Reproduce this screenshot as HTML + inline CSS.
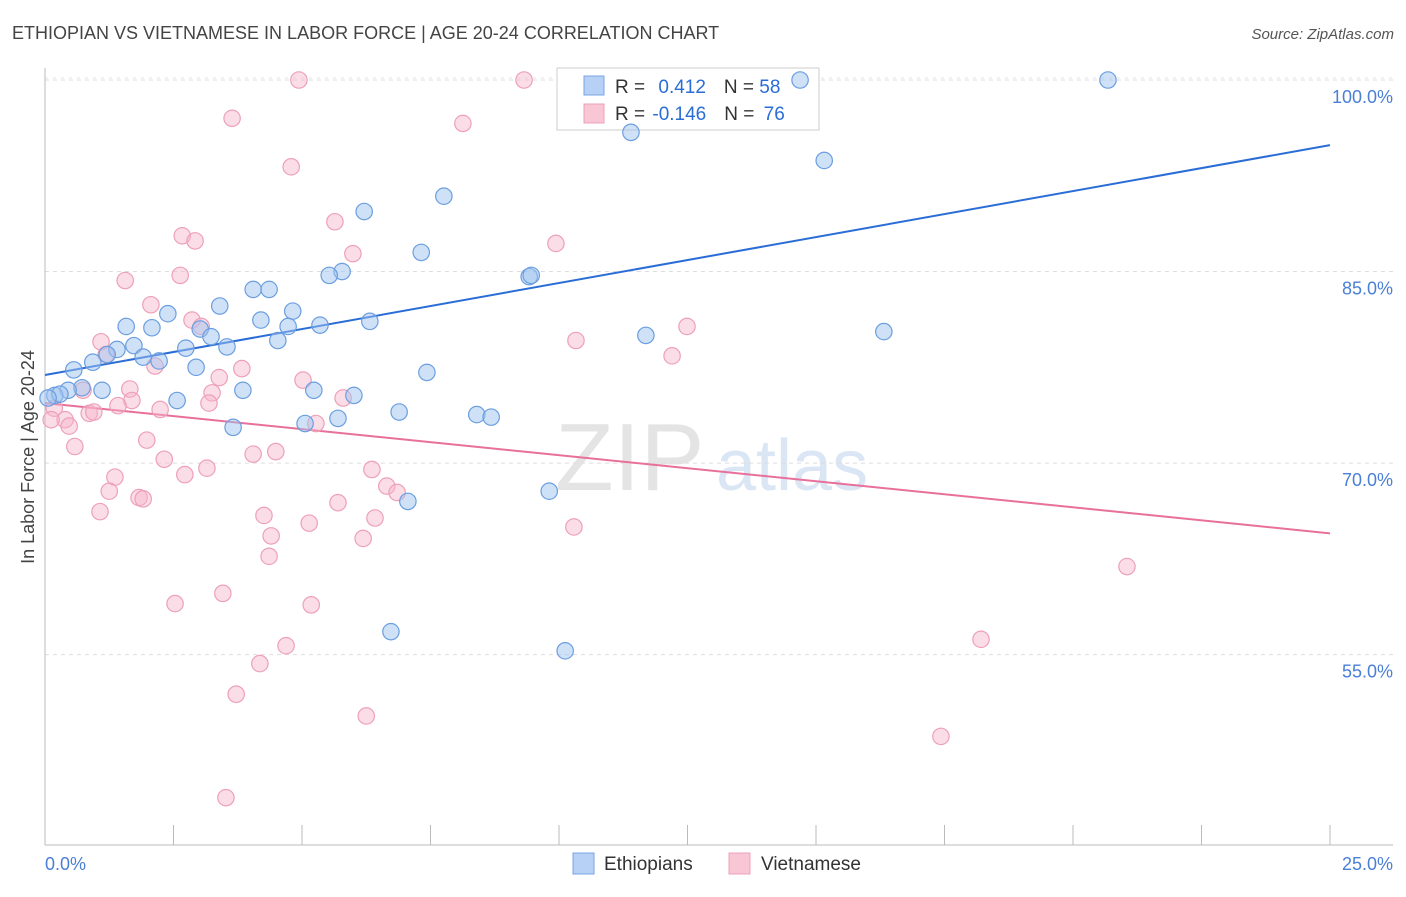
<!DOCTYPE html>
<html><head><meta charset="utf-8">
<style>
body{margin:0;background:#fff;font-family:"Liberation Sans",sans-serif;}
svg text{font-family:"Liberation Sans",sans-serif;}
</style></head>
<body>
<svg id="chart" width="1406" height="892" xmlns="http://www.w3.org/2000/svg">
<text x="12" y="39" font-size="18" fill="#444">ETHIOPIAN VS VIETNAMESE IN LABOR FORCE | AGE 20-24 CORRELATION CHART</text>
<text x="1394" y="39" font-size="15" fill="#555" text-anchor="end" font-style="italic">Source: ZipAtlas.com</text>
<g>
<text x="555" y="490" font-size="96" font-family="Liberation Serif" fill="#e4e4e4">ZIP</text>
<text x="716" y="490" font-size="72" fill="#dbe6f5">atlas</text>
</g>
<g id="grid"></g>
<g id="axes"></g>
<g>
<rect x="557" y="68" width="262" height="62" fill="#fff" stroke="#ccc"/>
<rect x="584" y="76" width="20" height="19" fill="#b7d0f5" stroke="#7aa4e4"/>
<rect x="584" y="104" width="20" height="19" fill="#f8c6d5" stroke="#eea0b8"/>
<text x="615" y="93" font-size="19" fill="#333">R = <tspan fill="#2a6dd6" dx="8">0.412</tspan><tspan dx="18" fill="#333">N = </tspan><tspan fill="#2a6dd6">58</tspan></text>
<text x="615" y="120" font-size="19" fill="#333">R = <tspan fill="#2a6dd6" dx="2">-0.146</tspan><tspan dx="18" fill="#333">N = </tspan><tspan fill="#2a6dd6" dx="4">76</tspan></text>
</g>
<g id="trends"></g>
<g id="points"></g>
<text transform="translate(34,457) rotate(-90)" font-size="18" fill="#444" text-anchor="middle">In Labor Force | Age 20-24</text>
<text x="45" y="870" font-size="18" fill="#4a7fd6">0.0%</text>
<text x="1393" y="870" font-size="18" fill="#4a7fd6" text-anchor="end">25.0%</text>
<g>
<rect x="573" y="853" width="21" height="21" fill="#b7d0f5" stroke="#7aa4e4"/>
<text x="604" y="870" font-size="19" fill="#333">Ethiopians</text>
<rect x="729" y="853" width="21" height="21" fill="#f8c6d5" stroke="#eea0b8"/>
<text x="761" y="870" font-size="19" fill="#333">Vietnamese</text>
</g>
</svg>
<script>
const yTicks=[100,85,70,55];
const yTickLabels=["100.0%","85.0%","70.0%","55.0%"];
const xTicks=[2.5,5,7.5,10,12.5,15,17.5,20,22.5,25];
const blueX=[20.68,14.69,11.40,15.16,7.76,6.21,7.32,9.42,9.46,5.78,5.53,4.05,4.36,3.40,4.82,2.39,1.58,2.08,4.20,4.73,5.35,6.32,11.69,16.32,3.02,3.23,4.53,3.54,2.74,1.73,1.40,1.21,1.91,2.22,0.93,2.94,0.56,7.43,1.11,0.72,0.45,3.85,5.23,6.01,2.57,0.19,0.29,0.06,6.89,8.40,8.68,5.70,5.06,3.66,9.81,7.06,6.73,10.12];
const blueY=[100,100,95.9,93.7,90.9,89.7,86.5,84.6,84.7,85.0,84.7,83.6,83.6,82.3,81.9,81.7,80.7,80.6,81.2,80.7,80.8,81.1,80.0,80.3,80.5,79.9,79.6,79.1,79.0,79.2,78.9,78.5,78.3,78.0,77.9,77.5,77.3,77.1,75.7,75.9,75.7,75.7,75.7,75.3,74.9,75.3,75.4,75.1,74.0,73.8,73.6,73.5,73.1,72.8,67.8,67.0,56.8,55.3];
const pinkX=[4.94,9.32,3.64,8.13,4.79,5.64,2.67,2.92,9.94,5.99,2.63,1.56,2.06,2.86,3.04,12.49,10.33,1.09,12.20,1.19,2.14,3.83,3.39,5.02,1.65,0.74,3.25,5.80,1.69,3.19,1.42,2.24,0.86,0.95,0.18,0.39,0.12,0.47,5.27,1.98,0.58,4.05,4.49,2.32,3.15,6.36,2.72,1.36,6.65,1.83,1.91,1.25,6.85,5.70,1.07,4.26,6.42,5.14,10.29,4.40,6.19,4.36,21.05,2.53,5.18,3.46,18.21,4.69,4.18,3.72,6.25,17.43,3.52];
const pinkY=[100,100,97.0,96.6,93.2,88.9,87.8,87.4,87.2,86.4,84.7,84.3,82.4,81.2,80.7,80.7,79.6,79.5,78.4,78.5,77.6,77.4,76.7,76.5,75.8,75.7,75.5,75.1,74.9,74.7,74.5,74.2,73.9,74.0,74.3,73.4,73.4,72.9,73.1,71.8,71.3,70.7,70.9,70.3,69.6,69.5,69.1,68.9,68.2,67.3,67.2,67.8,67.7,66.9,66.2,65.9,65.7,65.3,65.0,64.3,64.1,62.7,61.9,59.0,58.9,59.8,56.2,55.7,54.3,51.9,50.2,48.6,43.8];
const blueTrend=[76.9,94.9];
const pinkTrend=[74.7,64.5];
const NS="http://www.w3.org/2000/svg";
const X=v=>45+v/25*1285;
const Y=v=>80+(100-v)*12.77;
function mk(t,a,p){const e=document.createElementNS(NS,t);for(const k in a)e.setAttribute(k,a[k]);p.appendChild(e);return e;}
const grid=document.getElementById('grid'),axes=document.getElementById('axes');
yTicks.forEach((v,i)=>{
 const l=mk('line',{x1:45,x2:1393,y1:Y(v),y2:Y(v),stroke:'#ddd','stroke-dasharray':'4,4'},grid);
 
 
 const t=mk('text',{x:1393,y:Y(v)+23,'font-size':18,fill:'#4a7fd6','text-anchor':'end'},grid);
 t.textContent=yTickLabels[i];
 
 
});
mk('line',{x1:45,x2:1393,y1:78,y2:78,stroke:'#e6e6e6','stroke-dasharray':'3,5'},grid);
mk('line',{x1:45,x2:45,y1:68,y2:845,stroke:'#bbb'},axes);
mk('line',{x1:45,x2:1393,y1:845,y2:845,stroke:'#bbb'},axes);
xTicks.forEach(v=>{const t=mk('line',{x1:X(v),x2:X(v),y1:825,y2:845,stroke:'#bbb'},axes);
 
 });
const tr=document.getElementById('trends'),pts=document.getElementById('points');
function dots(xs,ys,fill,stroke,name){xs.forEach((x,i)=>{const c=mk('circle',{cx:X(x),cy:Y(ys[i]),r:8.2,fill:fill,stroke:stroke,'stroke-width':1.2},pts);
 
 });}
dots(pinkX,pinkY,'rgba(246,180,202,0.45)','#eea0b8','vietnamese-point');
dots(blueX,blueY,'rgba(160,196,240,0.5)','#6a9ee0','ethiopian-point');
const bl=mk('line',{x1:X(0),y1:Y(blueTrend[0]),x2:X(25),y2:Y(blueTrend[1]),stroke:'#2a6dd6','stroke-width':2},tr);


const pl=mk('line',{x1:X(0),y1:Y(pinkTrend[0]),x2:X(25),y2:Y(pinkTrend[1]),stroke:'#e8709a','stroke-width':2},tr);


</script>
</body></html>
